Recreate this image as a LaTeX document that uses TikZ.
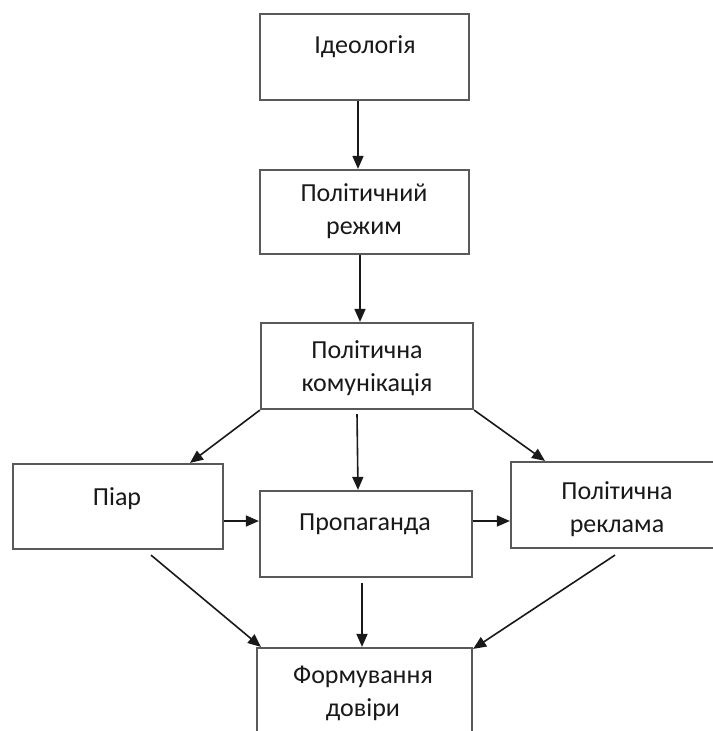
\documentclass[tikz,border=0pt]{standalone}
\usepackage{fontspec}
\setmainfont{Carlito}
\usetikzlibrary{arrows.meta,calc}
\begin{document}
\begin{tikzpicture}[x=1bp,y=-1bp,
  box/.style={draw=black!65, line width=2.2bp, fill=white, inner sep=0pt},
  lbl/.style={inner sep=0pt, align=center, font=\fontsize{26bp}{33bp}\selectfont, text=black!90},
  arr/.style={draw=black!90, line width=1.6bp, -{Triangle[length=13bp,width=11bp]}}]
\useasboundingbox (0,0) rectangle (713,731);
\clip (0,0) rectangle (713,731);
% boxes
\node[box, minimum width=209bp, minimum height=86bp] (ideo)   at (364.5,57) {};
\node[box, minimum width=209bp, minimum height=84bp] (regime) at (364.5,212) {};
\node[box, minimum width=212bp, minimum height=86bp] (comm)   at (367,366) {};
\node[box, minimum width=210bp, minimum height=85bp] (piar)   at (118,506.5) {};
\node[box, minimum width=212bp, minimum height=86bp] (prop)   at (366,534) {};
\node[box, minimum width=212bp, minimum height=86bp] (rekl)   at (617,505) {};
\node[box, minimum width=215bp, minimum height=92bp] (form)   at (364.5,694) {};
% texts
\node[lbl] (tideo)   at (365,47)    {Ідеологія};
\node[lbl] (tregime) at (364,211.5) {Політичний\\режим};
\node[lbl] (tcomm)   at (367,368.5) {Політична\\комунікація};
\node[lbl] (tpiar)   at (117,499)   {Піар};
\node[lbl] (tprop)   at (365,524)   {Пропаганда};
\node[lbl] (trekl)   at (617,509.5) {Політична\\реклама};
\node[lbl] (tform)   at (363,693.5) {Формування\\довіри};
% connectors
\draw[arr] ($(ideo.south)+(-6.5,0)$) -- ($(regime.north)+(-6.5,0)$);
\draw[arr] ($(regime.south)+(-4.5,0)$) -- ($(comm.north)+(-7,0)$);
\draw[arr] (comm.south west) -- ($(piar.north)+(72,0)$);
\draw[arr] ($(comm.south)+(-10,4)$) -- ($(prop.north)+(-8,0)$);
\draw[arr] (comm.south east) -- ($(rekl.north)+(-72,0)$);
\draw[arr] ($(piar.east)+(0,14.5)$) -- ($(prop.west)+(0,-13)$);
\draw[arr] ($(prop.east)+(0,-13)$) -- ($(rekl.west)+(0,16)$);
\draw[arr] ($(piar.south)+(33,5)$) -- ($(form.north west)+(5,0)$);
\draw[arr] ($(prop.south)+(-4,5)$) -- ($(form.north)+(-2.5,0)$);
\draw[arr] ($(rekl.south)+(-2,6)$) -- ($(form.north east)+(0,2)$);
\end{tikzpicture}
\end{document}
